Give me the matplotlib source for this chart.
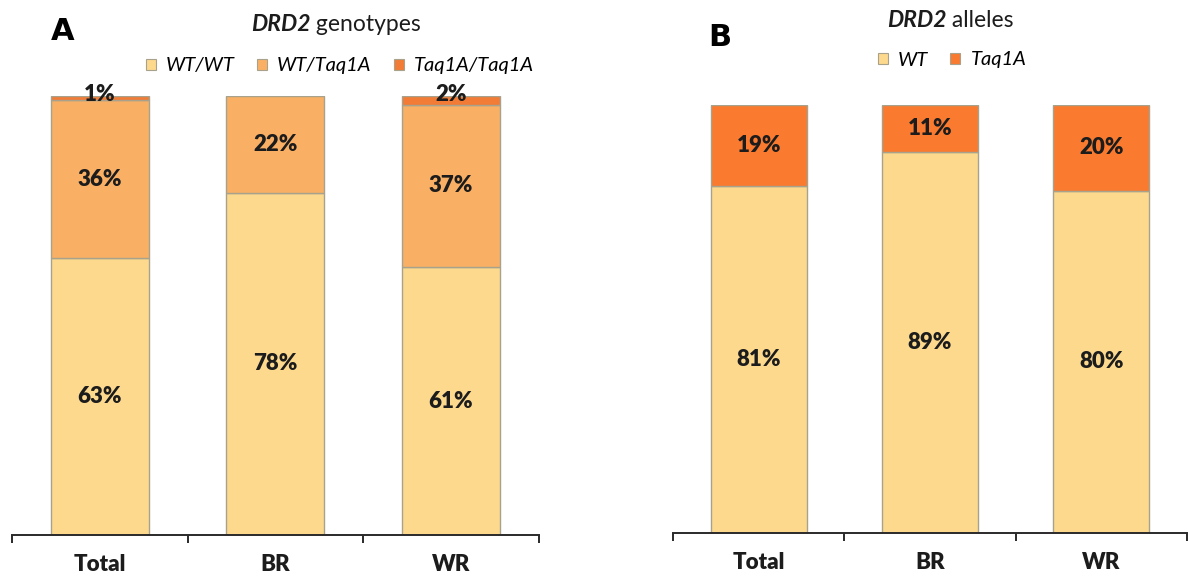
import numpy as np
import matplotlib
matplotlib.use('Agg')
import matplotlib.pyplot as plt
from matplotlib.patches import Patch

# data
groups = ['Total', 'BR', 'WR']
wt_wt = [63, 78, 61]
wt_taq = [36, 22, 37]
taq_taq = [1, 0, 2]
allele_wt = [81, 89, 80]
allele_taq = [19, 11, 20]

c_light = '#FDD98E'
c_mid = '#FAB064'
c_dark = '#F27B35'
c_dark_b = '#FA7A2F'
c_edge = '#A8A28C'
txt_col = '#1C1C1C'

W, H = 1188, 583
plt.rcParams['font.family'] = ['Lato', 'DejaVu Sans']

fig = plt.figure(figsize=(W / 100, H / 100), dpi=100)


def px(x, y):
    return x / W, 1 - y / H


def setup_axis(ax):
    ax.set_xlim(-0.5, 2.5)
    ax.set_ylim(0, 100)
    for s in ['left', 'right', 'top']:
        ax.spines[s].set_visible(False)
    ax.spines['bottom'].set_color('#2a2a2a')
    ax.spines['bottom'].set_linewidth(1.4)
    ax.set_yticks([])
    ax.set_xticks(range(3))
    ax.set_xticklabels(groups, fontsize=16, fontweight='heavy', color=txt_col)
    ax.set_xticks([-0.5, 0.5, 1.5, 2.5], minor=True)
    ax.tick_params(axis='x', which='major', length=0, pad=14)
    ax.tick_params(axis='x', which='minor', length=6, width=1.4,
                   direction='out', color='#2a2a2a')


def label_segments(ax, bottoms, vals):
    for i, (b, v) in enumerate(zip(bottoms, vals)):
        if v <= 0:
            continue
        ax.text(i, b + v / 2, f'{v}%', ha='center', va='center',
                fontsize=16, fontweight='heavy', color=txt_col)


def two_part_title(x, y, bold_part, rest):
    t1 = fig.text(*px(x, y), bold_part, fontsize=16.5, fontweight='bold',
                  style='italic', ha='left', va='baseline', color=txt_col)
    fig.canvas.draw()
    bb = t1.get_window_extent()
    fig.text(bb.x1 / W, 1 - y / H, rest, fontsize=16.5, ha='left',
             va='baseline', color=txt_col)


x = np.arange(3)

# Panel A: genotypes
axA = fig.add_axes([12 / W, (H - 535) / H, 526.5 / W, 439 / H])
b1 = np.array(wt_wt)
b2 = b1 + np.array(wt_taq)
axA.bar(x, wt_wt, 0.56, color=c_light, edgecolor=c_edge, linewidth=1)
axA.bar(x, wt_taq, 0.56, bottom=b1, color=c_mid, edgecolor=c_edge, linewidth=1)
mask = np.array(taq_taq) > 0
axA.bar(x[mask], np.array(taq_taq)[mask], 0.56, bottom=b2[mask], color=c_dark,
        edgecolor=c_edge, linewidth=1)
setup_axis(axA)
label_segments(axA, [0, 0, 0], wt_wt)
label_segments(axA, b1, wt_taq)
for i in range(3):
    if taq_taq[i] > 0:
        axA.text(i, 100.4, f'{taq_taq[i]}%', ha='center', va='center',
                 fontsize=16, fontweight='heavy', color=txt_col)

# Panel B: alleles
axB = fig.add_axes([673 / W, (H - 533) / H, 514 / W, 428 / H])
axB.bar(x, allele_wt, 0.56, color=c_light, edgecolor=c_edge, linewidth=1)
axB.bar(x, allele_taq, 0.56, bottom=allele_wt, color=c_dark_b,
        edgecolor=c_edge, linewidth=1)
setup_axis(axB)
label_segments(axB, [0, 0, 0], allele_wt)
label_segments(axB, allele_wt, allele_taq)

# panel letters
fig.text(*px(63, 31), 'A', fontsize=22, fontweight='bold', ha='center',
         va='center', color='black', family=['DejaVu Sans'])
fig.text(*px(720, 38), 'B', fontsize=22, fontweight='bold', ha='center',
         va='center', color='black', family=['DejaVu Sans'])

# titles
two_part_title(251, 31, 'DRD2', ' genotypes')
two_part_title(887, 27, 'DRD2', ' alleles')

# legends
leg_font = {'family': 'Lato', 'style': 'italic', 'size': 14.5}
handlesA = [Patch(facecolor=c, edgecolor=c_edge, linewidth=0.8)
            for c in [c_light, c_mid, c_dark]]
fig.legend(handlesA, ['WT/WT', 'WT/Taq1A', 'Taq1A/Taq1A'], loc='center',
           bbox_to_anchor=px(340, 66), ncol=3, frameon=False, prop=leg_font,
           handlelength=0.5, handleheight=0.5, handletextpad=0.5,
           columnspacing=1.1, borderpad=0)
handlesB = [Patch(facecolor=c, edgecolor=c_edge, linewidth=0.8)
            for c in [c_light, c_dark_b]]
fig.legend(handlesB, ['WT', 'Taq1A'], loc='center',
           bbox_to_anchor=px(952, 60), ncol=2, frameon=False, prop=leg_font,
           handlelength=0.5, handleheight=0.5, handletextpad=0.5,
           columnspacing=1.1, borderpad=0)

fig.savefig('out.png', dpi=100)
